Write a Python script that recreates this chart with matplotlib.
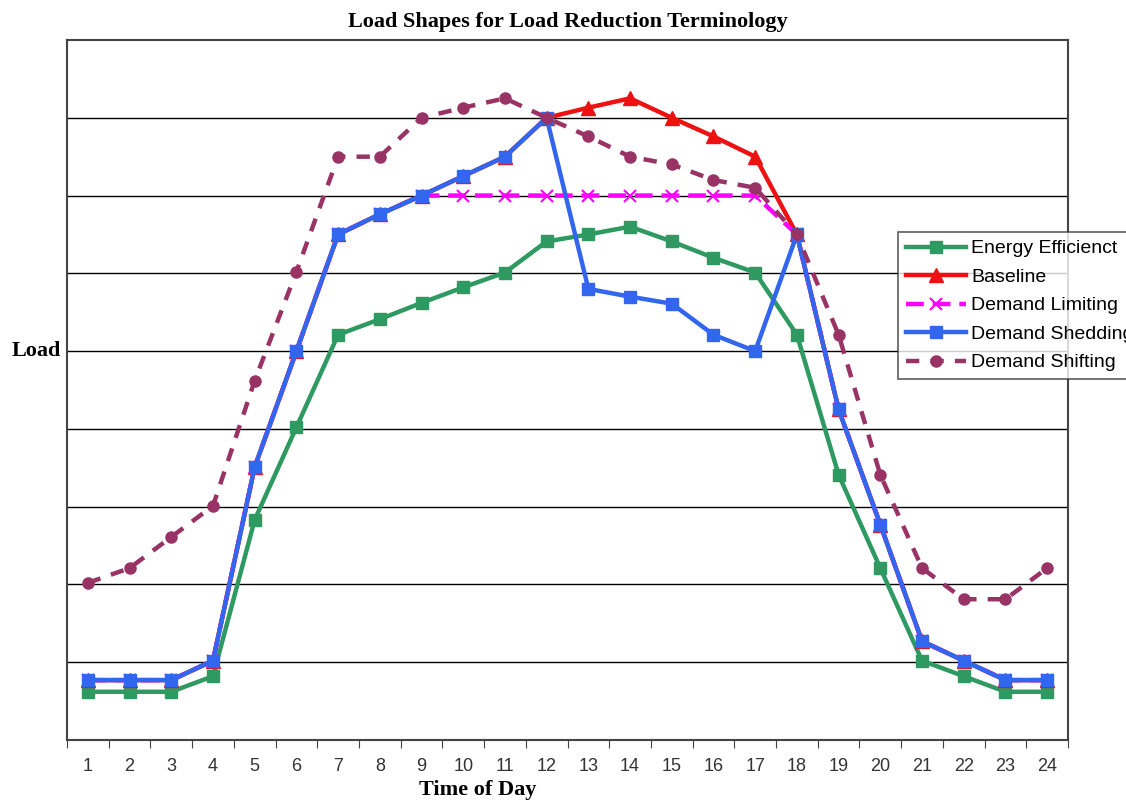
import numpy as np
import matplotlib.pyplot as plt

hours = np.arange(1, 25)

energy_efficient = [0.62, 0.62, 0.62, 0.82, 2.83, 4.02, 5.21, 5.41, 5.62, 5.82, 6.01, 6.41,
                    6.50, 6.60, 6.41, 6.20, 6.01, 5.21, 3.41, 2.21, 1.02, 0.82, 0.62, 0.62]
baseline = [0.77, 0.77, 0.77, 1.02, 3.51, 5.00, 6.50, 6.76, 7.00, 7.25, 7.50, 8.00,
            8.13, 8.25, 8.00, 7.76, 7.50, 6.50, 4.25, 2.77, 1.27, 1.02, 0.77, 0.77]
demand_limiting = [0.77, 0.77, 0.77, 1.02, 3.51, 5.00, 6.50, 6.76, 7.00, 7.00, 7.00, 7.00,
                   7.00, 7.00, 7.00, 7.00, 7.00, 6.50, 4.25, 2.77, 1.27, 1.02, 0.77, 0.77]
demand_shedding = [0.77, 0.77, 0.77, 1.02, 3.51, 5.00, 6.50, 6.76, 7.00, 7.25, 7.50, 8.00,
                   5.80, 5.70, 5.61, 5.21, 5.00, 6.50, 4.25, 2.77, 1.27, 1.02, 0.77, 0.77]
demand_shifting = [2.02, 2.21, 2.61, 3.01, 4.62, 6.02, 7.50, 7.50, 8.00, 8.13, 8.25, 8.00,
                   7.76, 7.50, 7.40, 7.20, 7.10, 6.50, 5.21, 3.41, 2.21, 1.81, 1.81, 2.21]

fig = plt.figure(figsize=(11.26, 8.01), dpi=100)
ax = fig.add_axes([67/1126, 61/801, 1001/1126, 700/801])

ax.plot(hours, energy_efficient, color='#2E9960', lw=3.2, marker='s', ms=8,
        label='Energy Efficienct', zorder=3)
ax.plot(hours, baseline, color='#EE1111', lw=3.2, marker='^', ms=10,
        label='Baseline', zorder=3)
ax.plot(hours, demand_limiting, color='#FF00FF', lw=3.2, ls=(0, (4, 2)), marker='x',
        ms=8, mew=1.5, label='Demand Limiting', zorder=3)
ax.plot(hours, demand_shedding, color='#3366EE', lw=3.2, marker='s', ms=9,
        label='Demand Shedding', zorder=3)
ax.plot(hours, demand_shifting, color='#993366', lw=3.2, ls=(0, (3, 2.5)), marker='o',
        ms=8, label='Demand Shifting', zorder=3)

ax.set_xlim(0.5, 24.5)
ax.set_ylim(0, 9)
ax.set_yticks(np.arange(1, 9))
ax.set_yticklabels([])
ax.tick_params(axis='y', length=0)
ax.yaxis.grid(True, color='black', lw=1)
ax.set_axisbelow(True)

# tick marks sit between hours, labels centred on them
ax.set_xticks(np.arange(0.5, 25, 1))
ax.set_xticklabels([])
ax.set_xticks(hours, minor=True)
ax.set_xticklabels([str(h) for h in hours], minor=True, fontsize=13,
                   family='Liberation Sans', color='#333333')
ax.tick_params(axis='x', which='major', direction='out', length=6, color='#444444')
ax.tick_params(axis='x', which='minor', length=0, pad=13)

for s in ax.spines.values():
    s.set_color('#444444')
    s.set_linewidth(1.5)

ax.set_title('Load Shapes for Load Reduction Terminology', family='Liberation Serif',
             fontweight='bold', fontsize=16, pad=9)
ax.set_xlabel('Time of Day', family='Liberation Serif', fontweight='bold', fontsize=16,
              va='center')
ax.xaxis.set_label_coords(0.41, -0.072)
ax.set_ylabel('Load', family='Liberation Serif', fontweight='bold', fontsize=16,
              rotation=0, va='center', ha='center')
ax.yaxis.set_label_coords(-0.031, 5.0 / 9)

leg = ax.legend(loc='upper left', bbox_to_anchor=(898/1126, 1 - 232/801),
                bbox_transform=fig.transFigure, frameon=True, fancybox=False,
                prop={'family': 'Liberation Sans', 'size': 14}, handlelength=3.1,
                handletextpad=0.25, borderpad=0.4, labelspacing=0.56, borderaxespad=0)
leg.get_frame().set_edgecolor('#333333')
leg.get_frame().set_linewidth(1.2)
leg.set_zorder(5)

fig.savefig('out.png', dpi=100)
